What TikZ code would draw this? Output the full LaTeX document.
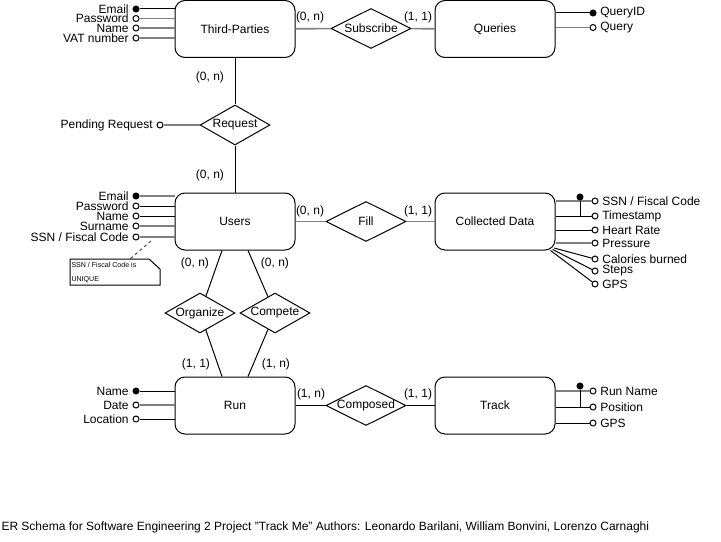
\documentclass[tikz,border=0pt]{standalone}
\usepackage{fontspec}
\setmainfont{Liberation Sans}[Ligatures=ResetAll]
\usetikzlibrary{shapes.geometric,calc}
\begin{document}
\begin{tikzpicture}[x=0.75pt,y=-0.75pt,
  font=\fontsize{9}{10}\selectfont,
  line width=0.75pt,
  entity/.style={draw,rounded corners=7.5pt,minimum width=90pt,minimum height=42.75pt,inner sep=0pt,fill=white},
  rel/.style={draw,diamond,inner sep=0pt,minimum width=#1,minimum height=30pt,fill=white},
  rel/.default=60pt,
  kattr/.style={circle,draw,fill=black,minimum size=4.5pt,inner sep=0pt},
  attr/.style={circle,draw,fill=white,minimum size=4.5pt,inner sep=0pt},
  gln/.style={draw=gray,line width=1.2pt},
  bln/.style={draw=black,line width=0.75pt},
  card/.style={inner sep=0pt},
  every label/.style={inner sep=0pt},
  label distance=2.5pt]
\fill[white] (0,0) rectangle (721,542);
\useasboundingbox (0,0) rectangle (721,542);

% entities
\node[entity] (tp) at (235,29) {Third-Parties};
\node[entity] (q) at (495,29) {Queries};
\node[entity] (u) at (235,221.5) {Users};
\node[entity] (cd) at (495,221.5) {Collected Data};
\node[entity] (r) at (235,405.5) {Run};
\node[entity] (t) at (495,405.5) {Track};

% relationships
\node[rel=60pt,label={center:Subscribe}] (sub) at (371,28.5) {};
\node[rel=52.5pt,label={center:Request}] (req) at (235,125) {};
\node[rel=60pt,label={center:Fill}] (fill) at (366,221.5) {};
\node[rel=52.5pt,label={center:Organize}] (org) at (200,313) {};
\node[rel=52.5pt,label={center:Compete}] (comp) at (275,313) {};
\node[rel=60pt,label={center:Composed}] (cmp) at (366,405.5) {};

% relationship connectors
\draw[gln] (tp) -- (sub);
\draw[gln] (sub) -- (q);
\draw[bln] (tp) -- (req);
\draw[bln] (req) -- (u);
\draw[gln] (u) -- (fill);
\draw[gln] (fill) -- (cd);
\draw[bln] ([xshift=-9.75pt]u.south) -- (org);
\draw[bln] (org) -- ([xshift=-9.75pt]r.north);
\draw[bln] ([xshift=9.75pt]u.south) -- (comp);
\draw[bln] (comp) -- ([xshift=9.75pt]r.north);
\draw[bln] (r) -- (cmp);
\draw[bln] (cmp) -- (t);

% cardinalities
\node[card] (c1) at (310,17) {(0, n)};
\node[card] (c2) at (418,17) {(1, 1)};
\node[card] (c3) at (210,77) {(0, n)};
\node[card] (c4) at (210,175) {(0, n)};
\node[card] (c5) at (310,211) {(0, n)};
\node[card] (c6) at (418,211) {(1, 1)};
\node[card] (c7) at (195,263) {(0, n)};
\node[card] (c8) at (275,263) {(0, n)};
\node[card] (c9) at (196,364) {(1, 1)};
\node[card] (c10) at (276,364) {(1, n)};
\node[card] (c11) at (311,394) {(1, n)};
\node[card] (c12) at (418,394) {(1, 1)};

% Third-Parties attributes
\node[kattr,label={left:Email}] (tpa1) at (136,9) {};
\node[attr,label={left:Password}] (tpa2) at (136,18.5) {};
\node[attr,label={left:Name}] (tpa3) at (136,28) {};
\node[attr,label={left:VAT number}] (tpa4) at (136,38) {};
\draw[bln] (tpa1) -- (tpa1 -| tp.west);
\draw[gln] (tpa2) -- (tpa2 -| tp.west);
\draw[gln] (tpa3) -- (tpa3 -| tp.west);
\draw[gln] (tpa4) -- (tpa4 -| tp.west);

% Queries attributes
\node[kattr,label={right:QueryID}] (qa1) at (593,13) {};
\node[attr,label={right:Query}] (qa2) at (593,27.5) {};
\draw[bln] (qa1) -- (qa1 -| q.east);
\draw[gln] (qa2) -- (qa2 -| q.east);

% Pending request
\node[attr,label={left:Pending Request}] (pr) at (160,125) {};
\draw[gln] (pr) -- (req);

% Users attributes
\node[kattr,label={left:Email}] (ua1) at (136,196) {};
\node[attr,label={left:Password}] (ua2) at (136,206) {};
\node[attr,label={left:Name}] (ua3) at (136,216) {};
\node[attr,label={left:Surname}] (ua4) at (136,226) {};
\node[attr,label={left:SSN / Fiscal Code}] (ua5) at (136,237) {};
\draw[gln] (ua1) -- (ua1 -| u.west);
\draw[bln] (ua2) -- (ua2 -| u.west);
\draw[bln] (ua3) -- (ua3 -| u.west);
\draw[gln] (ua4) -- (ua4 -| u.west);
\draw[gln] (ua5) -- (ua5 -| u.west);

% note
\coordinate (notefrom) at (151,241);
\coordinate (notetip) at (130,259);
\draw[draw=black!70,dash pattern=on 2.25pt off 2.25pt] (notefrom) -- (notetip);
\draw[fill=white] (70,259) -- (149,259) -- (160,269) -- (160,285) -- (70,285) -- cycle;
\node[anchor=west,inner sep=0pt,font=\fontsize{5.3}{6}\selectfont] (note1) at (71,264.5) {SSN / Fiscal Code is};
\node[anchor=west,inner sep=0pt,font=\fontsize{5.3}{6}\selectfont] (note2) at (71,279.5) {UNIQUE};

% Collected Data attributes
\node[attr,label={right:SSN / Fiscal Code}] (cda1) at (595,201) {};
\node[attr,label={right:Timestamp}] (cda2) at (595,216) {};
\node[attr,label={right:Heart Rate}] (cda3) at (595,230) {};
\node[attr,label={right:Pressure}] (cda4) at (595,243) {};
\node[attr,label={right:Calories burned}] (cda5) at (595,259) {};
\node[attr,label={right:Steps}] (cda6) at (595,271) {};
\node[attr,label={right:GPS}] (cda7) at (595,284) {};
\draw[gln] (cda1) -- (cda1 -| cd.east);
\draw[bln] (cda2) -- (cda2 -| cd.east);
\draw[bln] (cda3) -- (cda3 -| cd.east);
\draw[gln] (cda4) -- (cda4 -| cd.east);
\draw[bln] (cda5) -- ($(cd.south east)+(-1.5,-2.5)$);
\draw[bln] (cda6) -- ($(cd.south east)+(-3,-1)$);
\draw[bln] (cda7) -- ($(cd.south east)+(-5,0)$);
\node[kattr] (cdk) at (580,197) {};
\draw[bln] (cdk) -- (cdk |- cda2);

% Run attributes
\node[kattr,label={left:Name}] (ra1) at (136,391) {};
\node[attr,label={left:Date}] (ra2) at (136,405) {};
\node[attr,label={left:Location}] (ra3) at (136,419) {};
\draw[bln] (ra1) -- (ra1 -| r.west);
\draw[gln] (ra2) -- (ra2 -| r.west);
\draw[bln] (ra3) -- (ra3 -| r.west);

% Track attributes
\node[attr,label={right:Run Name}] (ta1) at (593,391) {};
\node[attr,label={right:Position}] (ta2) at (593,407) {};
\node[attr,label={right:GPS}] (ta3) at (593,423) {};
\draw[gln] (ta1) -- (ta1 -| t.east);
\draw[bln] (ta2) -- (ta2 -| t.east);
\draw[bln] (ta3) -- (ta3 -| t.east);
\node[kattr] (tk) at (580,386) {};
\draw[bln] (tk) -- (tk |- ta2);

% caption
\node[anchor=west,inner sep=0pt] (cap) at (1,527) {ER Schema for Software Engineering 2 Project "Track Me" Authors: Leonardo Barilani, William Bonvini, Lorenzo Carnaghi};
\end{tikzpicture}
\end{document}
